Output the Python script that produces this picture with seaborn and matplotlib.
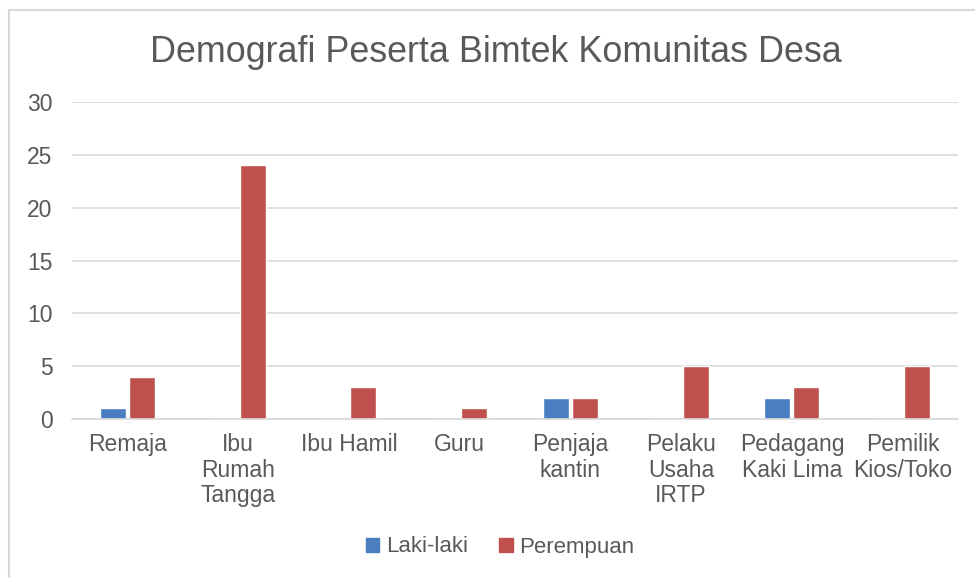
import matplotlib
matplotlib.use("Agg")
import matplotlib.pyplot as plt
import matplotlib.patches as mpatches
import seaborn as sns
import pandas as pd

categories = ["Remaja", "Ibu Rumah Tangga", "Ibu Hamil", "Guru", "Penjaja kantin",
              "Pelaku Usaha IRTP", "Pedagang Kaki Lima", "Pemilik Kios/Toko"]
tick_labels = ["Remaja", "Ibu\nRumah\nTangga", "Ibu Hamil", "Guru", "Penjaja\nkantin",
               "Pelaku\nUsaha\nIRTP", "Pedagang\nKaki Lima", "Pemilik\nKios/Toko"]
laki_laki = [1, 0, 0, 0, 2, 0, 2, 0]
perempuan = [4, 24, 3, 1, 2, 5, 3, 5]
series_names = ["Laki-laki", "Perempuan"]
colors = ["#4A7EC0", "#C0504D"]
title = "Demografi Peserta Bimtek Komunitas Desa"
yticks = [0, 5, 10, 15, 20, 25, 30]

df = pd.DataFrame({
    "Kategori": categories * 2,
    "Jumlah": laki_laki + perempuan,
    "Jenis": [series_names[0]] * len(categories) + [series_names[1]] * len(categories),
})

sns.set_theme(style="white")
plt.rcParams["font.family"] = ["Liberation Sans", "DejaVu Sans"]
text_color = "#595959"
grid_color = "#D9D9D9"

fig = plt.figure(figsize=(9.75, 5.78), dpi=100)
ax = fig.add_axes([72/975, 1 - 419/578, (958 - 72)/975, (419 - 102)/578])

sns.barplot(data=df, x="Kategori", y="Jumlah", hue="Jenis", order=categories,
            hue_order=series_names, palette=colors, width=0.524, gap=0.1,
            saturation=1, ax=ax, legend=False)

ax.set_ylim(0, 30)
ax.set_xlim(-0.5, len(categories) - 0.5)
ax.set_yticks(yticks)
ax.set_yticklabels([str(v) for v in yticks])
ax.set_xticks(range(len(categories)))
ax.set_xticklabels(tick_labels)
ax.set_xlabel("")
ax.set_ylabel("")
ax.yaxis.grid(True, color=grid_color, linewidth=1.2)
ax.set_axisbelow(True)
for side in ["top", "right", "left"]:
    ax.spines[side].set_visible(False)
ax.spines["bottom"].set_color(grid_color)
ax.spines["bottom"].set_linewidth(1.2)
ax.tick_params(axis="both", length=0, labelsize=16.5, colors=text_color)
ax.tick_params(axis="x", pad=10)
ax.tick_params(axis="y", pad=14)
for lbl in ax.get_xticklabels():
    lbl.set_verticalalignment("top")
    lbl.set_linespacing(1.15)

fig.text(0.509, 1 - 53/578, title, ha="center", va="center", fontsize=25.8, color=text_color)

handles = [mpatches.Patch(color=c, label=n) for c, n in zip(colors, series_names)]
fig.legend(handles=handles, loc="center", bbox_to_anchor=(0.513, 1 - 547/578), ncol=2,
           frameon=False, fontsize=16, handlelength=0.6, handleheight=0.6,
           handletextpad=0.3, columnspacing=1.4, labelcolor=text_color)

border = mpatches.Rectangle((9/975, -0.05), 1.1, (578 - 10)/578 + 0.05,
                            transform=fig.transFigure, fill=False,
                            edgecolor=grid_color, linewidth=1.5)
fig.patches.append(border)

fig.savefig("out.png", dpi=100)
